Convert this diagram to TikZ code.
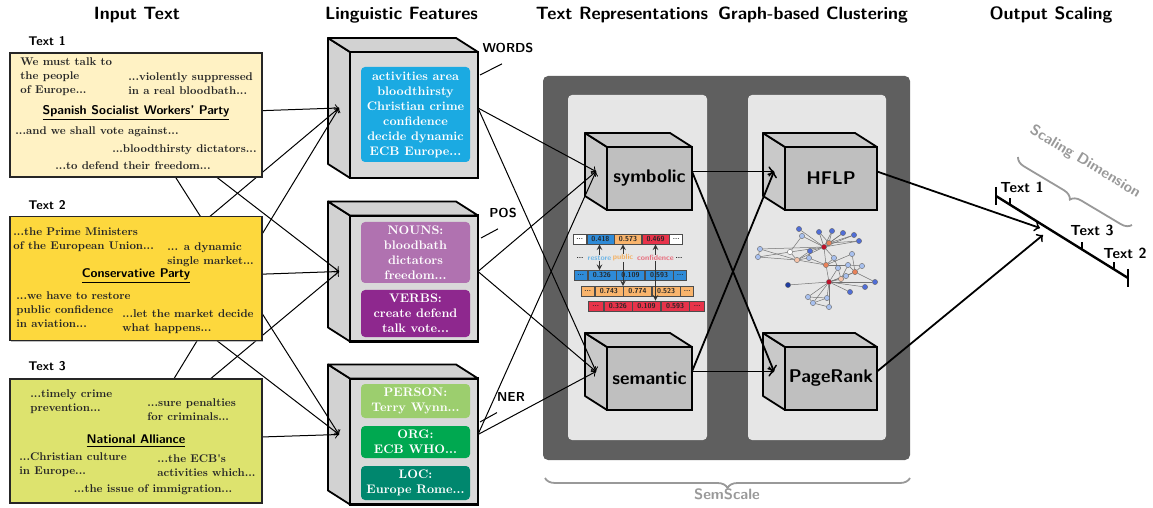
\documentclass[tikz,border=0pt]{standalone}
\usepackage{amsmath}
\usepackage{xcolor}
\usepackage{fontspec}
\usepackage{tikz}
\usetikzlibrary{arrows}
\usetikzlibrary{shapes}
\usetikzlibrary{positioning,calc,decorations.pathreplacing,shadows}

\newfontfamily\snipfont{lmroman10-bold.otf}

\definecolor{textone}{RGB}{255,242,196}
\definecolor{texttwo}{RGB}{253,216,61}
\definecolor{textthree}{RGB}{221,227,110}
\definecolor{wordblue}{RGB}{27,170,226}
\definecolor{nounpurple}{RGB}{176,114,176}
\definecolor{verbpurple}{RGB}{142,40,142}
\definecolor{persongreen}{RGB}{156,206,110}
\definecolor{orggreen}{RGB}{0,168,80}
\definecolor{locgreen}{RGB}{0,135,110}
\definecolor{panelgray}{RGB}{95,95,95}
\definecolor{innergray}{RGB}{230,230,230}
\definecolor{vecblue}{RGB}{46,139,216}
\definecolor{vecorange}{RGB}{249,180,108}
\definecolor{vecred}{RGB}{232,51,74}
\definecolor{wordlblue}{RGB}{110,182,230}
\definecolor{wordlorange}{RGB}{244,176,96}
\definecolor{wordlred}{RGB}{232,106,122}
\definecolor{netred}{RGB}{192,16,42}
\definecolor{netorange}{RGB}{232,130,90}
\definecolor{netpeach}{RGB}{245,194,168}
\definecolor{netblue}{RGB}{80,110,215}
\definecolor{netlight}{RGB}{168,192,238}
\definecolor{netdark}{RGB}{30,60,160}

\pgfdeclarelayer{back}
\pgfdeclarelayer{links}
\pgfsetlayers{back,links,main}

\tikzset{
    title/.style={font=\fontsize{8.9}{10}\selectfont\sffamily\bfseries},
    boxlabel/.style={font=\fontsize{6.3}{7.5}\selectfont\sffamily\bfseries},
    textbox/.style={draw=black!85, line width=0.8pt, minimum width=126pt,
        minimum height=62pt, inner sep=0pt,
        drop shadow={shadow xshift=0.6pt, shadow yshift=-0.6pt, opacity=0.5}},
    snippet/.style={font=\fontsize{5.6}{7}\selectfont\snipfont,
        align=left, inner sep=0pt, text=black!85},
    party/.style={font=\fontsize{6.3}{7}\selectfont\sffamily\bfseries, inner sep=0pt},
    featfront/.style={draw, line width=1.3pt, fill=gray!30, outer sep=0pt,
        inner sep=0pt, minimum width=64pt, minimum height=63pt},
    reprfront/.style={draw, line width=1.3pt, fill=gray!50, outer sep=0pt,
        inner sep=0pt, minimum height=31.5pt,
        font=\fontsize{9.2}{10}\selectfont\sffamily\bfseries},
    cubeedge/.style={draw, line width=0.9pt, line join=round},
    featbox/.style={rounded corners=2pt, text=white, align=center,
        font=\fontsize{6.2}{7.5}\selectfont\snipfont,
        minimum width=54.5pt, inner sep=0pt},
    tag/.style={font=\fontsize{6.5}{8}\selectfont\sffamily\bfseries},
    feedarrow/.style={->, line width=0.5pt},
    linkarrow/.style={->, line width=0.9pt},
    vcell/.style={draw=black!70, line width=0.3pt, inner sep=0pt,
        minimum height=5pt, text=black!85,
        font=\fontsize{3.6}{4}\selectfont\sffamily\bfseries},
    vword/.style={inner sep=0pt, font=\fontsize{3.8}{4}\selectfont\sffamily\bfseries},
    vecarrow/.style={->, >=stealth, line width=0.3pt, black!80},
    netnode/.style={circle, draw=black!60, line width=0.2pt, inner sep=0pt,
        minimum size=2.6pt},
    netedge/.style={black!55, line width=0.25pt},
    scalelabel/.style={font=\fontsize{7.3}{9}\selectfont\sffamily\bfseries},
    graylabel/.style={font=\fontsize{7.5}{9}\selectfont\sffamily\bfseries, text=black!40}
}

\newcommand{\cubefaces}[2]{%
    \filldraw[cubeedge, fill=#2] (#1.north west) -- ++(-22,-14)
        -- ($(#1.south west)+(-22,-14)$) -- (#1.south west) -- cycle;
    \filldraw[cubeedge, fill=#2] (#1.north west) -- ++(-22,-14)
        -- ($(#1.north east)+(-22,-14)$) -- (#1.north east) -- cycle;
    \coordinate (#1-side) at ($(#1.west)+(-11,-7)$);
    \coordinate (#1-out) at ($(#1.east)+(0,-7)$);
}

\begin{document}
\begin{tikzpicture}[x=0.5pt,y=-0.5pt]
    \useasboundingbox (0,0) rectangle (1153,508);

    % column titles
    \node[title] (h1) at (137,15) {Input Text};
    \node[title] (h2) at (401.5,15) {Linguistic Features};
    \node[title] (h3) at (622,15) {Text Representations};
    \node[title] (h4) at (813,15) {Graph-based Clustering};
    \node[title] (h5) at (1051,15) {Output Scaling};

    \begin{pgfonlayer}{back}
        % semscale panel
        \fill[panelgray, rounded corners=2.5pt] (543,76) rectangle (910,460);
        \fill[innergray, rounded corners=2pt] (568,95) rectangle (707,440);
        \fill[innergray, rounded corners=2pt] (748,95) rectangle (886,440);

        % linguistic feature cubes
        \node[featfront] (words) at (414,115) {};
        \cubefaces{words}{gray!35}
        \node[featfront] (pos) at (414,278.5) {};
        \cubefaces{pos}{gray!35}
        \node[featfront] (ner) at (414,441.5) {};
        \cubefaces{ner}{gray!35}

        \node[featbox, fill=wordblue, minimum height=47.5pt] (wordlist) at (415.5,114.5)
            {activities area\\bloodthirsty\\Christian crime\\confidence\\decide dynamic\\ECB Europe...};
        \node[featbox, fill=nounpurple, minimum height=30.5pt] (nouns) at (415.5,252.5)
            {NOUNS:\\bloodbath\\dictators\\freedom...};
        \node[featbox, fill=verbpurple, minimum height=23.5pt] (verbs) at (415.5,313.5)
            {VERBS:\\create defend\\talk vote...};
        \node[featbox, fill=persongreen, minimum height=17pt] (person) at (415.5,401)
            {PERSON:\\Terry Wynn...};
        \node[featbox, fill=orggreen, minimum height=16pt] (org) at (415.5,442)
            {ORG:\\ECB WHO...};
        \node[featbox, fill=locgreen, minimum height=17pt] (loc) at (415.5,483)
            {LOC:\\Europe Rome...};
    \end{pgfonlayer}

    % feature tags
    \node[tag] (wtag) at (508,48) {WORDS};
    \node[tag] (ptag) at (503,213) {POS};
    \node[tag] (ntag) at (511,397) {NER};
    \draw[line width=0.5pt] (480,75) -- ([xshift=-3pt,yshift=-2pt]wtag.south);
    \draw[line width=0.5pt] (481,238) -- ([xshift=-2.5pt,yshift=-2pt]ptag.south);
    \draw[line width=0.5pt] (480,422) -- ([xshift=-7pt,yshift=-2pt]ntag.south);

    % input texts
    \node[boxlabel] (l1) at (47,41) {Text 1};
    \node[boxlabel] (l2) at (47,205) {Text 2};
    \node[boxlabel] (l3) at (47,366) {Text 3};

    \node[textbox, fill=textone] (t1) at (136,115) {};
    \node[snippet, anchor=west] (t1a) at (20,76.5) {We must talk to\\the people\\of Europe...};
    \node[snippet, anchor=west] (t1b) at (128,84) {...violently suppressed\\in a real bloodbath...};
    \node[party] (t1p) at (136,113) {\underline{Spanish Socialist Workers' Party}};
    \node[snippet, anchor=west] (t1c) at (15,132) {...and we shall vote against...};
    \node[snippet, anchor=east] (t1d) at (257,150) {...bloodthirsty dictators...};
    \node[snippet] (t1e) at (133,166) {...to defend their freedom...};

    \node[textbox, fill=texttwo] (t2) at (136,278.5) {};
    \node[snippet, anchor=west] (t2a) at (13,239.5) {...the Prime Ministers\\of the European Union...};
    \node[snippet, anchor=west] (t2b) at (167,254.5) {... a dynamic\\single market...};
    \node[party] (t2p) at (136,276) {\underline{Conservative Party}};
    \node[snippet, anchor=west] (t2c) at (16,309.5) {...we have to restore\\public confidence\\in aviation...};
    \node[snippet, anchor=west] (t2d) at (122,322) {...let the market decide\\what happens...};

    \node[textbox, fill=textthree] (t3) at (136,441) {};
    \node[snippet, anchor=west] (t3a) at (30,401.5) {...timely crime\\prevention...};
    \node[snippet, anchor=west] (t3b) at (147,410) {...sure penalties\\for criminals...};
    \node[party] (t3p) at (136,441) {\underline{National Alliance}};
    \node[snippet, anchor=west] (t3c) at (19,465) {...Christian culture\\in Europe...};
    \node[snippet, anchor=west] (t3d) at (157,466) {...the ECB's\\activities which...};
    \node[snippet] (t3e) at (153,490) {...the issue of immigration...};

    \begin{pgfonlayer}{links}
        \foreach \t in {t1,t2,t3}
            \foreach \f in {words,pos,ner}
                \draw[feedarrow] (\t.center) -- (\f-side);
    \end{pgfonlayer}

    % text representations
    \node[reprfront, minimum width=42.5pt] (symbolic) at (649.5,178.5) {symbolic};
    \cubefaces{symbolic}{gray!42}
    \node[reprfront, minimum width=42.5pt] (semantic) at (649.5,378.5) {semantic};
    \cubefaces{semantic}{gray!42}

    % graph-based clustering
    \node[reprfront, minimum width=46pt] (hflp) at (831,178.5) {HFLP};
    \cubefaces{hflp}{gray!42}
    \node[reprfront, minimum width=46pt] (pagerank) at (831,378.5) {PageRank};
    \cubefaces{pagerank}{gray!42}

    \foreach \f in {words,pos,ner}
        \foreach \r in {symbolic,semantic}
            \draw[feedarrow] (\f-out) -- (\r-side);
    \foreach \r in {symbolic,semantic}
        \foreach \g in {hflp,pagerank}
            \draw[linkarrow] (\r-out) -- (\g-side);

    % vector sketch
    \node[vcell, fill=white, minimum width=6.5pt, anchor=west] (ra1) at (573,239) {...};
    \node[vcell, fill=vecblue, minimum width=13.5pt, right=0pt of ra1] (ra2) {0.418};
    \node[vcell, fill=vecorange, minimum width=13.5pt, right=0pt of ra2] (ra3) {0.573};
    \node[vcell, fill=vecred, minimum width=13.5pt, right=0pt of ra3] (ra4) {0.469};
    \node[vcell, fill=white, minimum width=6.5pt, right=0pt of ra4] (ra5) {...};

    \node[vword] (wa) at (580,258) {...};
    \node[vword, text=wordlblue] (restore) at (599.5,258) {restore};
    \node[vword, text=wordlorange] (public) at (623,258) {public};
    \node[vword, text=wordlred] (confidence) at (655.5,258) {confidence};
    \node[vword] (wb) at (679,258) {...};

    \node[vcell, fill=vecblue, minimum width=6.5pt, anchor=west] (rb1) at (574,275.5) {...};
    \node[vcell, fill=vecblue, minimum width=14pt, right=0pt of rb1] (rb2) {0.326};
    \node[vcell, fill=vecblue, minimum width=14pt, right=0pt of rb2] (rb3) {0.109};
    \node[vcell, fill=vecblue, minimum width=14pt, right=0pt of rb3] (rb4) {0.593};
    \node[vcell, fill=vecblue, minimum width=6.5pt, right=0pt of rb4] (rb5) {...};

    \node[vcell, fill=vecorange, minimum width=6.5pt, anchor=west] (rc1) at (581,291.5) {...};
    \node[vcell, fill=vecorange, minimum width=14pt, right=0pt of rc1] (rc2) {0.743};
    \node[vcell, fill=vecorange, minimum width=14pt, right=0pt of rc2] (rc3) {0.774};
    \node[vcell, fill=vecorange, minimum width=14pt, right=0pt of rc3] (rc4) {0.523};
    \node[vcell, fill=vecorange, minimum width=6.5pt, right=0pt of rc4] (rc5) {...};

    \node[vcell, fill=vecred, minimum width=7.5pt, anchor=west] (rd1) at (588,306) {...};
    \node[vcell, fill=vecred, minimum width=14pt, right=0pt of rd1] (rd2) {0.326};
    \node[vcell, fill=vecred, minimum width=14pt, right=0pt of rd2] (rd3) {0.109};
    \node[vcell, fill=vecred, minimum width=14pt, right=0pt of rd3] (rd4) {0.593};
    \node[vcell, fill=vecred, minimum width=7.5pt, right=0pt of rd4] (rd5) {...};

    \draw[vecarrow] (restore.north) -- (restore.north |- ra2.south);
    \draw[vecarrow] (public.north) -- (public.north |- ra3.south);
    \draw[vecarrow] (confidence.north) -- (confidence.north |- ra4.south);
    \draw[vecarrow] (restore.south) -- (restore.south |- rb1.north);
    \draw[vecarrow] (public.south) -- (public.south |- rc1.north);
    \draw[vecarrow] (confidence.south) -- (confidence.south |- rd1.north);

    % network sketch
    \foreach \n/\x/\y/\c in {1/824/247/netred, 2/829/282/netred, 3/829/243/netorange,
        4/826/265/netorange, 5/855/272/netorange, 6/797/260/netpeach, 7/841/279/netpeach,
        8/799/229/netblue, 9/802/236/netlight, 10/819/232/netblue, 11/832/231/netblue,
        12/843/233/netblue, 13/854/235/netblue, 14/859/241/netblue, 15/760/249/netlight,
        16/758/257/netlight, 17/790/252/white, 18/810/251/netblue, 19/809/258/netlight,
        20/852/254/netlight, 21/834/258/netlight, 22/848/265/netlight, 23/838/268/netlight,
        24/875/282/netblue, 25/865/287/netblue, 26/850/292/netblue, 27/788/285/netdark,
        28/808/297/netlight, 29/827/298/netlight, 30/813/303/netlight, 31/829/307/netlight,
        32/846/276/netlight, 33/862/266/netlight}
        \node[netnode, fill=\c] (g\n) at (\x,\y) {};
    \begin{pgfonlayer}{links}
        \foreach \a/\b in {1/3, 1/8, 1/9, 1/10, 1/11, 1/12, 1/13, 1/14, 1/17, 1/15, 1/18,
            1/6, 1/4, 1/21, 3/11, 3/12, 3/13, 3/14, 3/10, 2/27, 2/28, 2/29, 2/30, 2/31,
            2/24, 2/25, 2/26, 2/7, 2/5, 2/4, 2/32, 2/23, 4/20, 4/21, 4/22, 4/6, 4/19,
            5/20, 5/33, 5/24, 5/22, 5/32, 6/15, 6/16, 6/17, 6/18, 6/19, 15/16, 16/17,
            17/9, 28/29, 29/30, 30/31, 28/30, 7/22, 7/23, 21/23, 22/33, 18/19}
            \draw[netedge] (g\a) -- (g\b);
    \end{pgfonlayer}

    % output scaling
    \coordinate (scalestart) at (996,196);
    \coordinate (scaleend) at (1128,278);
    \coordinate (hit1) at (1040,228);
    \coordinate (hit2) at (1043,235);
    \draw[line width=1.2pt] (scalestart) -- (scaleend);
    \draw[line width=1.2pt] ($(scalestart)+(0,-9)$) -- ($(scalestart)+(0,9)$);
    \draw[line width=1.2pt] ($(scaleend)+(0,-9)$) -- ($(scaleend)+(0,9)$);
    \draw[line width=0.7pt] ($(scalestart)!0.106!(scaleend)$) -- ++(0,-7);
    \draw[line width=0.7pt] ($(scalestart)!0.652!(scaleend)$) -- ++(0,-7);
    \draw[line width=0.7pt] ($(scalestart)!0.894!(scaleend)$) -- ++(0,-7);
    \node[scalelabel] (s1) at (1022,187) {Text 1};
    \node[scalelabel] (s3) at (1092,230) {Text 3};
    \node[scalelabel] (s2) at (1125,253) {Text 2};

    \draw[linkarrow] (hflp-out) -- (hit1);
    \draw[linkarrow] (pagerank-out) -- (hit2);

    % braces
    \draw[black!40, line width=0.9pt, decorate, decoration={brace, mirror, amplitude=5pt}]
        (1018,157) -- (1132,225);
    \node[graylabel, rotate=-31] (dimlabel) at (1085,162) {Scaling Dimension};
    \draw[black!40, line width=0.9pt, decorate, decoration={brace, mirror, amplitude=5pt}]
        (545,478) -- (910,478);
    \node[graylabel] (semscale) at (727,494) {SemScale};
\end{tikzpicture}
\end{document}
